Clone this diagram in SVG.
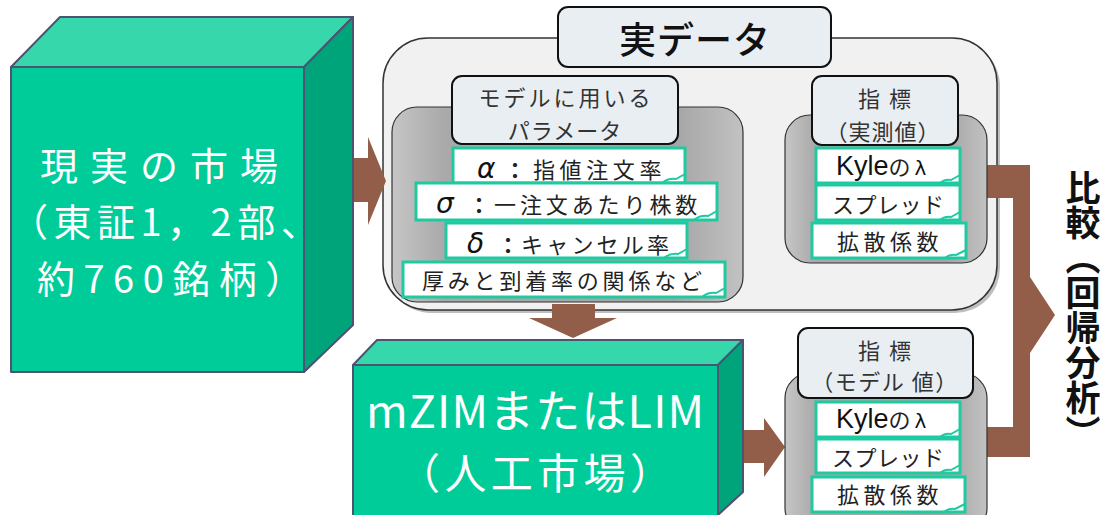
<svg xmlns="http://www.w3.org/2000/svg" width="1107" height="515" viewBox="0 0 1107 515">
<defs>
<linearGradient id="gray" x1="0" y1="0" x2="1" y2="0">
<stop offset="0" stop-color="#c6c6c6"/>
<stop offset="0.15" stop-color="#a9a9a9"/>
<stop offset="0.8" stop-color="#a4a4a4"/>
<stop offset="1" stop-color="#c2c2c2"/>
</linearGradient>
<style>
.front{fill:#00cc99;stroke:#4f5373;stroke-width:2;stroke-linejoin:round}
.top{fill:#36d8ab;stroke:#4f5373;stroke-width:2;stroke-linejoin:round}
.side{fill:#00a47b;stroke:#4f5373;stroke-width:2;stroke-linejoin:round}
.cubetxt{font-family:"Noto Sans CJK JP",sans-serif;fill:#ffffff}
.arrow{fill:#925e4a}
.outer{fill:#f1f1f1;stroke:#333;stroke-width:1.5}
.shadow{fill:#8a8a8a;opacity:0.55}
.grayb{fill:url(#gray);stroke:#333;stroke-width:1.2}
.label{fill:#e9eef3;stroke:#111;stroke-width:2}
.item{fill:#ffffff;stroke:#1fcaa0;stroke-width:3}
.curl{fill:none;stroke:#1fcaa0;stroke-width:2}
.jp{font-family:"Noto Sans CJK JP",sans-serif;fill:#333;font-size:22px}
.it{font-family:"Noto Sans CJK JP",sans-serif;fill:#222;font-size:22px}
.greek{font-family:"DejaVu Sans",sans-serif;font-style:italic;fill:#111;font-size:28px}
.kyle{font-family:"Liberation Sans",sans-serif;fill:#111;font-size:27px}
</style>
</defs>

<!-- Outer 実データ container -->
<g id="real-data">
<rect class="shadow" x="386" y="41" width="614" height="272" rx="45"/>
<rect class="outer" x="383" y="38" width="614" height="272" rx="45"/>
</g>

<g id="connectors">
<polygon class="arrow" points="353,158 368,158 368,137 386,181 368,225 368,202 353,202"/>
<polygon class="arrow" points="552,304 595,304 595,318 617,318 573,338 529,318 552,318"/>
<polygon class="arrow" points="743,430 764,430 764,418 785,447 764,477 764,463 743,463"/>
<polygon class="arrow" points="985,165 1030,165 1030,277 1055,315 1030,353 1030,457 985,457 985,427 1013,427 1013,198 985,198"/>
</g>

<g id="title-real-data">
<rect class="label" x="558" y="7" width="273" height="60" rx="10"/>
<text x="695" y="54" text-anchor="middle" font-family="Noto Sans CJK JP, sans-serif" font-size="37" font-weight="500" fill="#111" letter-spacing="1">実データ</text>
</g>

<g id="real-market">
<rect class="front" x="11" y="67" width="293" height="305"/>
<polygon class="top" points="11,67 60,17 353,17 304,67"/>
<polygon class="side" points="304,67 353,17 353,325 304,372"/>
<text class="cubetxt" font-size="38" x="40" y="180" letter-spacing="12">現実の市場</text>
<text class="cubetxt" font-size="38" x="10" y="236" letter-spacing="5.5">（東証1，2部、</text>
<text class="cubetxt" font-size="38" x="37" y="293" letter-spacing="8.5">約760銘柄）</text>
</g>

<g id="artificial-market">
<rect class="front" x="353" y="365" width="365" height="160"/>
<polygon class="top" points="353,365 377,340 743,340 718,365"/>
<polygon class="side" points="718,365 743,340 743,492 718,515"/>
<text class="cubetxt" font-size="45" x="366" y="428" textLength="338" lengthAdjust="spacing">mZIMまたはLIM</text>
<text class="cubetxt" font-size="42" x="398" y="489" letter-spacing="4.4">（人工市場）</text>
</g>

<g id="parameters">
<rect class="grayb" x="392" y="107" width="351" height="195" rx="25"/>
<rect class="label" x="452" y="76" width="226" height="68" rx="10"/>
<text class="jp" x="566" y="106" text-anchor="middle" letter-spacing="3">モデルに用いる</text>
<text class="jp" x="565" y="139" text-anchor="middle" letter-spacing="1">パラメータ</text>
</g>

<g id="param-alpha">
<rect class="item" x="453" y="148" width="232" height="35"/>
<path class="curl" d="M662,183 q6,-5 14,-4 l9,-5"/>
<text class="it" y="178"><tspan class="greek" x="477">α</tspan><tspan x="504" font-weight="bold">：</tspan><tspan x="533" letter-spacing="4.6">指値注文率</tspan></text>
</g>
<g id="param-sigma">
<rect class="item" x="416" y="183" width="301" height="37"/>
<path class="curl" d="M694,220 q6,-5 14,-4 l9,-5"/>
<text class="it" y="213"><tspan class="greek" x="436">σ</tspan><tspan x="468" font-weight="bold">：</tspan><tspan x="494" letter-spacing="3.9">一注文あたり株数</tspan></text>
</g>
<g id="param-delta">
<rect class="item" x="446" y="223" width="241" height="35"/>
<path class="curl" d="M664,258 q6,-5 14,-4 l9,-5"/>
<text class="it" y="253"><tspan class="greek" x="467">δ</tspan><tspan x="497" font-weight="bold">：</tspan><tspan x="521" letter-spacing="3.2">キャンセル率</tspan></text>
</g>
<g id="param-depth">
<rect class="item" x="403" y="262" width="322" height="35"/>
<path class="curl" d="M702,297 q6,-5 14,-4 l9,-5"/>
<text class="it" x="422" y="289" letter-spacing="3.8">厚みと到着率の関係など</text>
</g>

<g id="measured-indicators">
<rect class="grayb" x="785" y="115" width="202" height="148" rx="25"/>
<rect class="label" x="812" y="76" width="146" height="69" rx="10"/>
<text class="jp" x="889" y="107" text-anchor="middle" letter-spacing="9">指標</text>
<text class="jp" x="883" y="140" text-anchor="middle" letter-spacing="1">（実測値）</text>
</g>
<g id="measured-kyle">
<rect class="item" x="816" y="148" width="144" height="35"/>
<path class="curl" d="M940,183 q5,-4 11,-3 l9,-5"/>
<text class="kyle" x="836" y="175">Kyle<tspan class="it" font-size="22">の</tspan><tspan font-family="DejaVu Sans" font-size="20" dx="4">λ</tspan></text>
</g>
<g id="measured-spread">
<rect class="item" x="816" y="185" width="144" height="35"/>
<path class="curl" d="M940,220 q5,-4 11,-3 l9,-5"/>
<text class="it" x="832" y="213" letter-spacing="0.5">スプレッド</text>
</g>
<g id="measured-diffusion">
<rect class="item" x="812" y="223" width="154" height="35"/>
<path class="curl" d="M945,258 q5,-4 11,-3 l10,-5"/>
<text class="it" x="837" y="250" letter-spacing="4.5">拡散係数</text>
</g>

<g id="model-indicators">
<rect class="grayb" x="785" y="373" width="202" height="160" rx="25"/>
<rect class="label" x="798" y="328" width="175" height="70" rx="10"/>
<text class="jp" x="889" y="359" text-anchor="middle" letter-spacing="9">指標</text>
<text class="jp" x="885" y="390" text-anchor="middle" letter-spacing="1.5">（モデル 値）</text>
</g>
<g id="model-kyle">
<rect class="item" x="816" y="402" width="144" height="35"/>
<path class="curl" d="M940,437 q5,-4 11,-3 l9,-5"/>
<text class="kyle" x="836" y="428">Kyle<tspan class="it" font-size="22">の</tspan><tspan font-family="DejaVu Sans" font-size="20" dx="4">λ</tspan></text>
</g>
<g id="model-spread">
<rect class="item" x="816" y="439" width="144" height="34"/>
<path class="curl" d="M940,473 q5,-4 11,-3 l9,-5"/>
<text class="it" x="832" y="466" letter-spacing="0.5">スプレッド</text>
</g>
<g id="model-diffusion">
<rect class="item" x="812" y="477" width="153" height="35"/>
<path class="curl" d="M944,512 q5,-4 11,-3 l10,-5"/>
<text class="it" x="837" y="503" letter-spacing="4.5">拡散係数</text>
</g>

<g id="comparison">
<text x="1083" y="170" writing-mode="vertical-rl" font-family="Noto Sans CJK JP, sans-serif" font-size="35" font-weight="bold" fill="#111">比較（回帰分析）</text>
</g>
</svg>
